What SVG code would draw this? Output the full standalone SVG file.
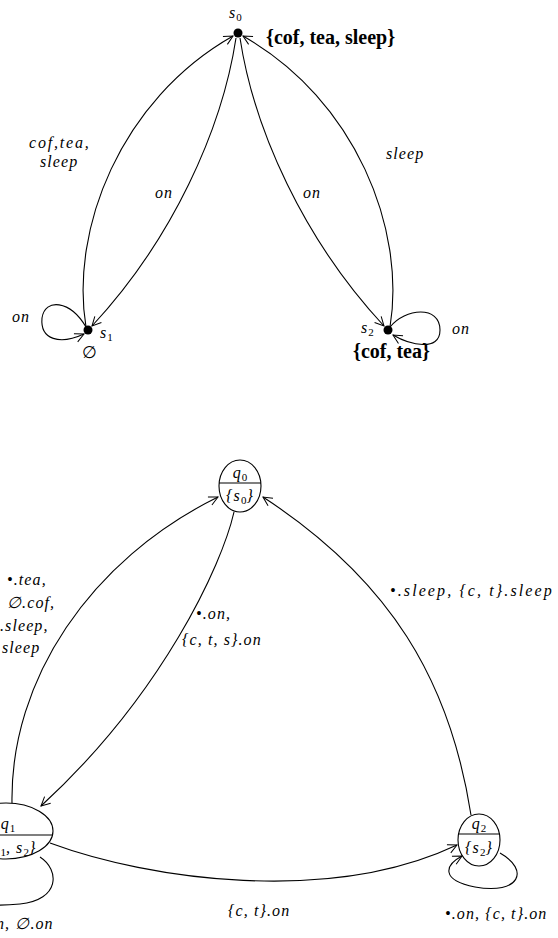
<svg xmlns="http://www.w3.org/2000/svg" width="558" height="938" viewBox="0 0 558 938">
  <style>
    .edge { fill: none; stroke: #000; stroke-width: 1.1; }
    .lbl { font-size: 16px; font-style: italic; fill: #000; letter-spacing: 1.1px; }
    .rm { font-size: 17px; fill: #000; }
    .bold { font-size: 20px; font-weight: bold; fill: #000; }
    .state { fill: #fff; stroke: #000; stroke-width: 1.1; }
    .sub { font-size: 11px; font-style: normal; letter-spacing: 0; }
  </style>
  <defs>
    <marker id="arr" viewBox="-10 -6 12 12" refX="0" refY="0" markerWidth="12" markerHeight="12" markerUnits="userSpaceOnUse" orient="auto">
      <path d="M -9 -4.5 Q -3 -1.5 0 0 Q -3 1.5 -9 4.5" fill="none" stroke="#000" stroke-width="1"/>
    </marker>
  </defs>

  <g font-family="Liberation Serif, DejaVu Serif, serif">
  <!-- upper structure: connectors -->
  <g id="kripke-edges">
    <path class="edge" d="M 86 327 C 70 230, 120 100, 233 36" marker-end="url(#arr)"/>
    <path class="edge" d="M 236 38 C 222 130, 172 240, 92 326" marker-end="url(#arr)"/>
    <path class="edge" d="M 240 38 C 254 130, 304 240, 384 326" marker-end="url(#arr)"/>
    <path class="edge" d="M 390 327 C 406 230, 356 100, 243 36" marker-end="url(#arr)"/>
    <path class="edge" d="M 86 327 C 70 300, 45 298, 42 318 C 40 340, 60 345, 84 334" marker-end="url(#arr)"/>
    <path class="edge" d="M 390 327 C 405 308, 440 305, 440 330 C 440 352, 410 345, 393 335" marker-end="url(#arr)"/>
    <text class="lbl" x="29" y="148" style="letter-spacing:1.8px">cof,tea,</text>
    <text class="lbl" x="40" y="167">sleep</text>
    <text class="lbl" x="155" y="198">on</text>
    <text class="lbl" x="303" y="198">on</text>
    <text class="lbl" x="386" y="159">sleep</text>
    <text class="lbl" x="12" y="322">on</text>
    <text class="lbl" x="452" y="334">on</text>
  </g>

  <!-- upper structure: states -->
  <g id="s0">
    <circle cx="238" cy="33" r="4.5" fill="#000"/>
    <text class="lbl" x="229" y="18">s<tspan class="sub" dy="3">0</tspan></text>
    <text class="bold" x="266" y="44">{cof, tea, sleep}</text>
  </g>
  <g id="s1">
    <circle cx="88" cy="330" r="4.5" fill="#000"/>
    <text class="lbl" x="100" y="338">s<tspan class="sub" dy="3">1</tspan></text>
    <text class="rm" x="82" y="358">∅</text>
  </g>
  <g id="s2">
    <circle cx="388" cy="330" r="4.5" fill="#000"/>
    <text class="lbl" x="361" y="333">s<tspan class="sub" dy="3">2</tspan></text>
    <text class="bold" x="353" y="358">{cof, tea}</text>
  </g>

  <!-- lower structure: connectors -->
  <g id="automaton-edges">
    <path class="edge" d="M 12 803 C 10 680, 90 560, 218 497" marker-end="url(#arr)"/>
    <path class="edge" d="M 234 512 C 222 565, 162 695, 41 806" marker-end="url(#arr)"/>
    <path class="edge" d="M 471 815 C 450 680, 390 580, 263 497" marker-end="url(#arr)"/>
    <path class="edge" d="M 50 843 C 150 880, 330 905, 457 845" marker-end="url(#arr)"/>
    <path class="edge" d="M 40 857 C 60 870, 60 900, 20 904 C 0 906, -20 905, -30 900"/>
    <path class="edge" d="M 500 853 C 530 870, 520 895, 475 887 C 440 880, 445 865, 462 856" marker-end="url(#arr)"/>
    <text class="lbl" x="7" y="585">•.tea,</text>
    <text class="lbl" x="7" y="608">∅.cof,</text>
    <text class="lbl" x="0" y="631">.sleep,</text>
    <text class="lbl" x="2" y="653">sleep</text>
    <text class="lbl" x="196" y="619">•.on,</text>
    <text class="lbl" x="182" y="645">{c, t, s}.on</text>
    <text class="lbl" x="390" y="596" style="letter-spacing:2.1px">•.sleep, {c, t}.sleep</text>
    <text class="lbl" x="228" y="916">{c, t}.on</text>
    <text class="lbl" x="445" y="919">•.on, {c, t}.on</text>
    <text class="lbl" x="-4" y="929">n, ∅.on</text>
  </g>

  <!-- lower structure: states -->
  <g id="q0">
    <ellipse class="state" cx="240" cy="486" rx="21" ry="26"/>
    <line x1="219" y1="483" x2="261" y2="483" stroke="#000" stroke-width="1.1"/>
    <text class="lbl" x="240" y="478" text-anchor="middle">q<tspan class="sub" dy="3">0</tspan></text>
    <text class="lbl" x="240" y="501" text-anchor="middle">{s<tspan class="sub" dy="3">0</tspan><tspan dy="-3">}</tspan></text>
  </g>
  <g id="q1">
    <ellipse class="state" cx="6" cy="831" rx="47" ry="28"/>
    <line x1="-41" y1="835" x2="53" y2="835" stroke="#000" stroke-width="1.1"/>
    <text class="lbl" x="8" y="829" text-anchor="middle">q<tspan class="sub" dy="3">1</tspan></text>
    <text class="lbl" x="11" y="853" text-anchor="middle">{s<tspan class="sub" dy="3">1</tspan><tspan dy="-3">, s</tspan><tspan class="sub" dy="3">2</tspan><tspan dy="-3">}</tspan></text>
  </g>
  <g id="q2">
    <ellipse class="state" cx="479" cy="840" rx="21" ry="26"/>
    <line x1="458" y1="834" x2="500" y2="834" stroke="#000" stroke-width="1.1"/>
    <text class="lbl" x="479" y="829" text-anchor="middle">q<tspan class="sub" dy="3">2</tspan></text>
    <text class="lbl" x="479" y="853" text-anchor="middle">{s<tspan class="sub" dy="3">2</tspan><tspan dy="-3">}</tspan></text>
  </g>
  </g>
</svg>
